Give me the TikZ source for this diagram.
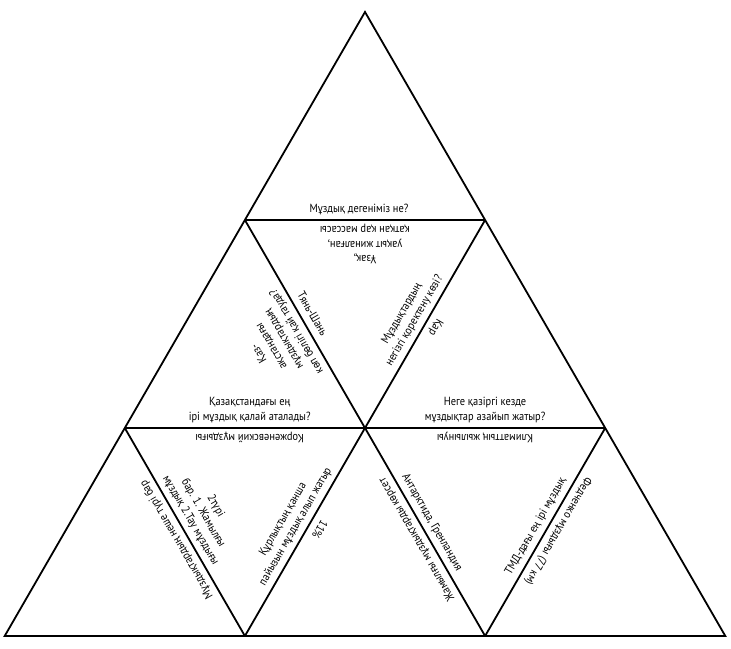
\documentclass[tikz,border=0pt]{standalone}
\usepackage{fontspec}
\setmainfont[FakeStretch=0.88]{PT Sans}
\usetikzlibrary{calc}
\begin{document}
\begin{tikzpicture}[x=1pt,y=1pt,
  edge/.style={line width=1.8pt, line join=miter},
  lbl/.style={font=\fontsize{11.8}{14.5}\selectfont, align=center, inner sep=0pt, text depth=0pt, anchor=south}]
\useasboundingbox (0,0) rectangle (731,648);
\fill[white] (0,0) rectangle (731,648);
\coordinate (A) at (365,636);
\coordinate (B1) at (244.9,428);
\coordinate (B2) at (485.1,428);
\coordinate (C1) at (124.8,220);
\coordinate (C2) at (365,220);
\coordinate (C3) at (605.2,220);
\coordinate (D1) at (4.7,12);
\coordinate (D2) at (244.9,12);
\coordinate (D3) at (485.1,12);
\coordinate (D4) at (725.3,12);
\draw[edge] (A) -- (D1) -- (D4) -- cycle;
\draw[edge] (B1) -- (B2);
\draw[edge] (C1) -- (C3);
\draw[edge] (B1) -- (D3);
\draw[edge] (B2) -- (D2);
\draw[edge] (C1) -- (D2);
\draw[edge] (C3) -- (D3);
% top row
\path ($(B1)!0.475!(B2)$) ++(90:7.5) node[lbl] (t1) {Мұздық дегеніміз не?};
% middle row
\path ($(B1)!0.5!(B2)$) ++(-90:6.5) node[lbl, rotate=180] (t2) {Ұзақ,\\ уақыт жиналған,\\ қатқан қар массасы};
\path ($(C1)!0.52!(C2)$) ++(90:7.5) node[lbl] (t3) {Қазақстандағы ең\\ ірі мұздық қалай аталады?};
\path ($(B1)!0.51!(C2)$) ++(210:7.5) node[lbl, rotate=120] (t4) {Қаз-\\ ақстандағы\\ мұздықтардың\\ көп бөлігі қай тауда?};
\path ($(B1)!0.48!(C2)$) ++(30:7.5) node[lbl, rotate=-60] (t5) {Тянь-Шань};
\path ($(B2)!0.51!(C2)$) ++(150:7.5) node[lbl, rotate=60] (t6) {Мұздықтардың\\ негізгі қоректену көзі?};
\path ($(B2)!0.49!(C2)$) ++(-30:7.5) node[lbl, rotate=-120] (t7) {Қар};
\path ($(C2)!0.5!(C3)$) ++(90:7.5) node[lbl] (t8) {Неге қазіргі кезде\\ мұздықтар азайып жатыр?};
% bottom row
\path ($(C1)!0.52!(C2)$) ++(-90:6.5) node[lbl, rotate=180] (t9) {Корженевский мұздығы};
\path ($(C2)!0.5!(C3)$) ++(-90:6.5) node[lbl, rotate=180] (t10) {Климаттың жылынуы};
\path ($(C1)!0.51!(D2)$) ++(210:7.5) node[lbl, rotate=120] (t11) {Мұздықтардың неше түрі бар};
\path ($(C1)!0.47!(D2)$) ++(30:7.5) node[lbl, rotate=-60] (t12) {2түрі\\ бар. 1. Жамылғы\\ мұздық 2.Тау мұздығы};
\path ($(C2)!0.5!(D2)$) ++(150:7.5) node[lbl, rotate=60] (t13) {Құрлықтың қанша\\ пайызын мұздық алып жатыр};
\path ($(C2)!0.46!(D2)$) ++(-30:7.5) node[lbl, rotate=-120] (t14) {11\%};
\path ($(C2)!0.51!(D3)$) ++(210:7.5) node[lbl, rotate=120] (t15) {Жамылғы мұздықтарды көрсет};
\path ($(C2)!0.48!(D3)$) ++(30:7.5) node[lbl, rotate=-60] (t16) {Антарктида, Гренландия};
\path ($(C3)!0.5!(D3)$) ++(150:7.5) node[lbl, rotate=60] (t17) {ТМД-дағы ең ірі мұздық};
\path ($(C3)!0.47!(D3)$) ++(-30:7.5) node[lbl, rotate=-120] (t18) {Федченко мұздығы (77 км)};
\end{tikzpicture}
\end{document}
